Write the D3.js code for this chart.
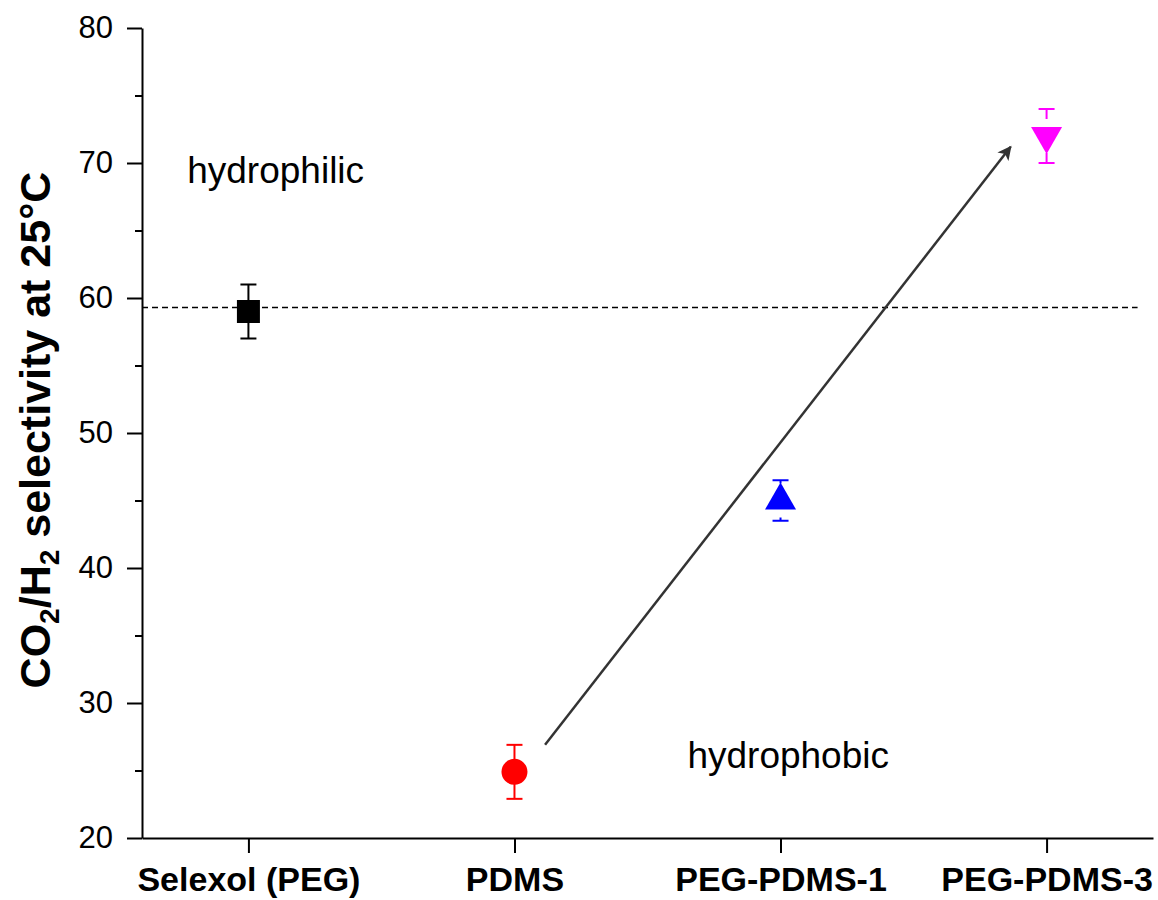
<!DOCTYPE html>
<html>
<head>
<meta charset="utf-8">
<script src="https://d3js.org/d3.v7.min.js"></script>
<style>
body { margin: 0; background: white; }
text { font-family: Arial, "Liberation Sans", sans-serif; }
</style>
</head>
<body>
<script>
// data
var categories = ["Selexol (PEG)", "PDMS", "PEG-PDMS-1", "PEG-PDMS-3"]
var selectivity = [59, 24.9, 45, 72]
var errors = [2, 2, 1.5, 2]
var yTicks = [20, 30, 40, 50, 60, 70, 80]
var yMinorTicks = [25, 35, 45, 55, 65, 75]
var refLine = 59.3
// arrow goes from (index, value) to (index, value)
var arrowFrom = [1.115, 26.9]
var arrowTo = [2.865, 71.2]
var noteText = ["hydrophilic", "hydrophobic"]
var noteX = [-0.23, 1.65]
var noteY = [68.5, 25.2]

// styles, one per category
var colors = ["#000000", "#ff0000", "#0000ff", "#ff00ff"]
var shapes = ["square", "circle", "triangle", "triangleDown"]

var setup = function()
{
    var screen = {width: 1158, height: 900}
    var margins = {top: 28, bottom: 62, left: 142, right: 5}

    var xScale = d3.scaleLinear()
                    .domain([-0.4, 3.4])
                    .range([margins.left, screen.width - margins.right])

    var yScale = d3.scaleLinear()
                    .domain([20, 80])
                    .range([screen.height - margins.bottom, margins.top])

    var svg = d3.select("body")
    .append("svg")
    .attr("width", screen.width)
    .attr("height", screen.height);

    //axis
    var xAxis = d3.axisBottom(xScale)
        .tickValues([0, 1, 2, 3])
        .tickFormat(function(d) { return categories[d] })
        .tickSize(15)
        .tickSizeOuter(0)
        .tickPadding(14)

    var yAxis = d3.axisLeft(yScale)
        .tickValues(yTicks)
        .tickSize(15)
        .tickSizeOuter(0)
        .tickPadding(14)

    var yMinor = d3.axisLeft(yScale)
        .tickValues(yMinorTicks)
        .tickSize(7)
        .tickFormat("")

    svg.append("g")
    .attr("id", "yMinor")
    .attr("transform", "translate(" + margins.left + ",0)")
    .call(yMinor)
    .call(function(g) { g.select(".domain").remove() })

    svg.append("g")
    .attr("id", "yAxis")
    .attr("transform", "translate(" + margins.left + ",0)")
    .call(yAxis)

    svg.append("g")
    .attr("id", "xAxis")
    .attr("transform", "translate(0," + yScale(20) + ")")
    .call(xAxis)

    svg.selectAll(".domain, .tick line")
    .attr("stroke", "#000")
    .attr("stroke-width", 2)

    d3.select("#yAxis").selectAll("text")
    .attr("font-size", 31)
    .attr("fill", "#000")

    d3.select("#xAxis").selectAll("text")
    .attr("font-size", 34)
    .attr("font-weight", "bold")
    .attr("fill", "#000")

    // y title with subscripts
    var title = svg.append("text")
    .attr("transform", "translate(50," + 430 + ") rotate(-90)")
    .attr("text-anchor", "middle")
    .attr("font-size", 43)
    .attr("font-weight", "bold")

    title.append("tspan").text("CO")
    title.append("tspan").attr("font-size", 28).attr("dy", 9).text("2")
    title.append("tspan").attr("dy", -9).text("/H")
    title.append("tspan").attr("font-size", 28).attr("dy", 9).text("2")
    title.append("tspan").attr("dy", -9).text(" selectivity at 25°C")

    // dashed reference line
    svg.append("line")
    .attr("x1", xScale(-0.4))
    .attr("x2", xScale(3.342))
    .attr("y1", yScale(refLine))
    .attr("y2", yScale(refLine))
    .attr("stroke", "#000")
    .attr("stroke-width", 1.6)
    .attr("stroke-dasharray", "6,4")

    // annotation text
    svg.selectAll(".note")
    .data(noteText)
    .enter()
    .append("text")
    .attr("class", "note")
    .attr("x", function(d, i) { return xScale(noteX[i]) })
    .attr("y", function(d, i) { return yScale(noteY[i]) })
    .attr("font-size", 37)
    .attr("fill", "#000")
    .text(function(d) { return d })

    // arrow
    svg.append("defs")
    .append("marker")
    .attr("id", "head")
    .attr("viewBox", "0 0 10 10")
    .attr("refX", 9)
    .attr("refY", 5)
    .attr("markerUnits", "userSpaceOnUse")
    .attr("markerWidth", 16)
    .attr("markerHeight", 14)
    .attr("orient", "auto")
    .append("path")
    .attr("d", "M0,0 L10,5 L0,10 L2.5,5 Z")
    .attr("fill", "#333")

    svg.append("line")
    .attr("x1", xScale(arrowFrom[0]))
    .attr("y1", yScale(arrowFrom[1]))
    .attr("x2", xScale(arrowTo[0]))
    .attr("y2", yScale(arrowTo[1]))
    .attr("stroke", "#333")
    .attr("stroke-width", 2.5)
    .attr("marker-end", "url(#head)")

    // error bars (triangles leave a little gap like origin does)
    var gaps = {square: 0, circle: 0, triangle: 17, triangleDown: 17}
    var capW = 8

    var eb = svg.append("g").attr("id", "errorbars")
        .selectAll("g")
        .data(selectivity)
        .enter()
        .append("g")
        .attr("stroke", function(d, i) { return colors[i] })
        .attr("stroke-width", 2)

    eb.append("line")
    .attr("x1", function(d, i) { return xScale(i) })
    .attr("x2", function(d, i) { return xScale(i) })
    .attr("y1", function(d, i) { return yScale(d + errors[i]) })
    .attr("y2", function(d, i) { return yScale(d) - gaps[shapes[i]] })

    eb.append("line")
    .attr("x1", function(d, i) { return xScale(i) })
    .attr("x2", function(d, i) { return xScale(i) })
    .attr("y1", function(d, i) { return yScale(d) + gaps[shapes[i]] })
    .attr("y2", function(d, i) { return yScale(d - errors[i]) })

    eb.append("line")
    .attr("x1", function(d, i) { return xScale(i) - capW })
    .attr("x2", function(d, i) { return xScale(i) + capW })
    .attr("y1", function(d, i) { return yScale(d + errors[i]) })
    .attr("y2", function(d, i) { return yScale(d + errors[i]) })

    eb.append("line")
    .attr("x1", function(d, i) { return xScale(i) - capW })
    .attr("x2", function(d, i) { return xScale(i) + capW })
    .attr("y1", function(d, i) { return yScale(d - errors[i]) })
    .attr("y2", function(d, i) { return yScale(d - errors[i]) })

    // markers
    var markerPath = function(d, i)
    {
        var cx = xScale(i), cy = yScale(d)
        var s = shapes[i]
        var w = 31, h = 27
        if (s == "square") {
            return "M" + (cx - 11.5) + "," + (cy - 11.5) + "h23v23h-23Z"
        }
        if (s == "circle") {
            return "M" + (cx - 13) + "," + cy + "a13,13 0 1,0 26,0a13,13 0 1,0 -26,0Z"
        }
        if (s == "triangle") {
            return "M" + cx + "," + (cy - 2 * h / 3) + "L" + (cx + w / 2) + "," + (cy + h / 3) + "L" + (cx - w / 2) + "," + (cy + h / 3) + "Z"
        }
        return "M" + cx + "," + (cy + 2 * h / 3) + "L" + (cx + w / 2) + "," + (cy - h / 3) + "L" + (cx - w / 2) + "," + (cy - h / 3) + "Z"
    }

    svg.append("g")
    .attr("id", "points")
    .selectAll("path")
    .data(selectivity)
    .enter()
    .append("path")
    .attr("d", markerPath)
    .attr("fill", function(d, i) { return colors[i] })
}

setup()
</script>
</body>
</html>
